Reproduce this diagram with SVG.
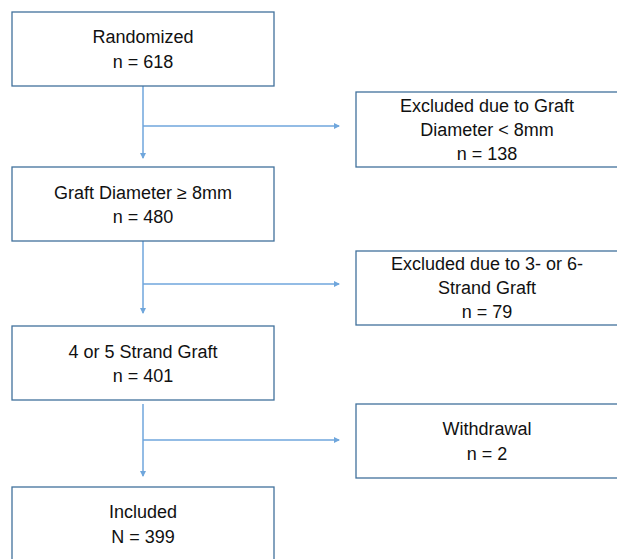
<svg xmlns="http://www.w3.org/2000/svg" width="617" height="559" viewBox="0 0 617 559">
<style>
.box{fill:#fff;stroke:#41719c;stroke-width:1.3}
.t{font-family:"Liberation Sans",Arial,sans-serif;font-size:18px;fill:#111;text-anchor:middle}
.c{fill:none;stroke:#6fa6dc;stroke-width:1.5}
</style>
<defs>
<marker id="ah" markerWidth="6" markerHeight="6" refX="5" refY="3" orient="auto" markerUnits="userSpaceOnUse">
<path d="M0,0 L6,3 L0,6 Z" fill="#6fa6dc"/>
</marker>
</defs>
<rect width="617" height="559" fill="#fff"/>
<g id="connectors">
<path class="c" d="M143,86 V158" marker-end="url(#ah)"/>
<path class="c" d="M143,126 H339" marker-end="url(#ah)"/>
<path class="c" d="M143,241 V313" marker-end="url(#ah)"/>
<path class="c" d="M143,284 H339" marker-end="url(#ah)"/>
<path class="c" d="M143,404 V476" marker-end="url(#ah)"/>
<path class="c" d="M143,440 H339" marker-end="url(#ah)"/>
</g>
<g id="randomized">
<rect class="box" x="12" y="12" width="262" height="74"/>
<text class="t" x="143" y="43">Randomized</text>
<text class="t" x="143" y="68">n = 618</text>
</g>
<g id="graft-diameter">
<rect class="box" x="12" y="167" width="262" height="74"/>
<text class="t" x="143" y="199">Graft Diameter ≥ 8mm</text>
<text class="t" x="143" y="223">n = 480</text>
</g>
<g id="strand-graft">
<rect class="box" x="12" y="326" width="262" height="74"/>
<text class="t" x="143" y="358">4 or 5 Strand Graft</text>
<text class="t" x="143" y="382">n = 401</text>
</g>
<g id="included">
<rect class="box" x="12" y="487" width="262" height="80"/>
<text class="t" x="143" y="518">Included</text>
<text class="t" x="143" y="543">N = 399</text>
</g>
<g id="excluded-diameter">
<rect class="box" x="356" y="92" width="264" height="75"/>
<text class="t" x="487" y="112">Excluded due to Graft</text>
<text class="t" x="487" y="136">Diameter &lt; 8mm</text>
<text class="t" x="487" y="160">n = 138</text>
</g>
<g id="excluded-strand">
<rect class="box" x="356" y="251" width="264" height="74"/>
<text class="t" x="487" y="270">Excluded due to 3- or 6-</text>
<text class="t" x="487" y="294">Strand Graft</text>
<text class="t" x="487" y="318">n = 79</text>
</g>
<g id="withdrawal">
<rect class="box" x="356" y="404" width="264" height="74"/>
<text class="t" x="487" y="435">Withdrawal</text>
<text class="t" x="487" y="460">n = 2</text>
</g>
</svg>
